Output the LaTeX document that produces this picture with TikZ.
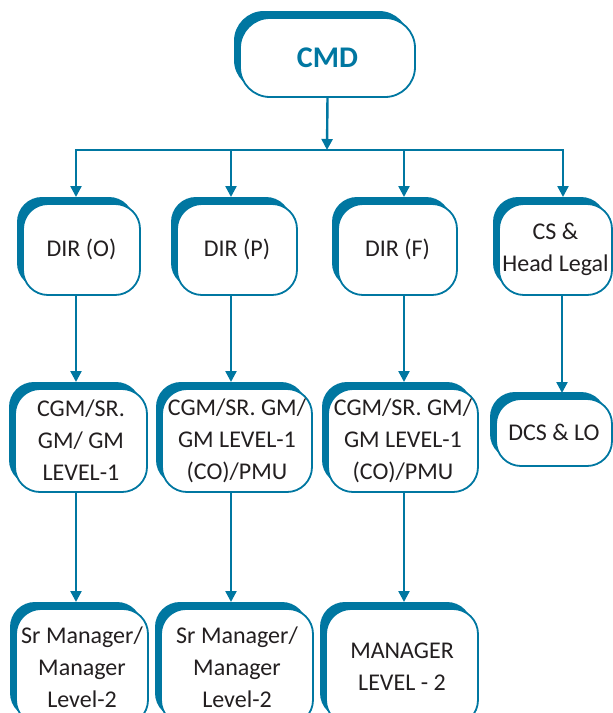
\documentclass[tikz,border=0pt]{standalone}
\usepackage{fontspec}
\setmainfont{Carlito}
\usetikzlibrary{shadows,arrows.meta}
\definecolor{tealc}{RGB}{0,119,161}
\definecolor{txt}{RGB}{35,31,32}
\tikzset{
  orgbox/.style={rectangle, rounded corners=25pt, draw=tealc, line width=1.8pt,
    fill=white, align=center, inner sep=0pt, text=txt,
    font=\fontsize{24}{32}\selectfont,
    general shadow={fill=tealc, shadow xshift=-6pt, shadow yshift=7pt}},
  link/.style={draw=tealc, line width=2.4pt},
  arr/.style={link, -{Triangle[length=11pt,width=11pt]}}
}
\begin{document}
\begin{tikzpicture}[x=1pt,y=-1pt]
\useasboundingbox (0,0) rectangle (613,713);
\clip (0,0) rectangle (613,713);
% top
\node[orgbox, rounded corners=30pt, minimum width=175pt, minimum height=79pt,
  text=tealc, font=\fontsize{30}{34}\selectfont\bfseries] (cmd) at (327.5,57.5) {CMD};
% row 1
\node[orgbox, minimum width=117pt, minimum height=91pt] (diro) at (81.5,249.5) {DIR (O)};
\node[orgbox, minimum width=120pt, minimum height=91pt] (dirp) at (237,249.5) {DIR (P)};
\node[orgbox, minimum width=119pt, minimum height=91pt] (dirf) at (397.5,249.5) {DIR (F)};
\node[orgbox, minimum width=113pt, minimum height=91pt] (cs) at (555.5,249.5) {CS \&\\Head Legal};
% row 2
\node[orgbox, minimum width=132pt, minimum height=103pt] (cgmo) at (81,440.5) {CGM/SR.\\GM/ GM\\LEVEL-1};
\node[orgbox, minimum width=150pt, minimum height=103pt] (cgmp) at (237,440.5) {CGM/SR. GM/\\GM LEVEL-1\\(CO)/PMU};
\node[orgbox, minimum width=150pt, minimum height=103pt] (cgmf) at (403,440.5) {CGM/SR. GM/\\GM LEVEL-1\\(CO)/PMU};
\node[orgbox, minimum width=116pt, minimum height=67pt] (dcs) at (554,432.5) {DCS \& LO};
% row 3
\node[orgbox, minimum width=132pt, minimum height=116pt] (mgro) at (82,667) {Sr Manager/\\Manager\\Level-2};
\node[orgbox, minimum width=152pt, minimum height=116pt] (mgrp) at (237,667) {Sr Manager/\\Manager\\Level-2};
\node[orgbox, minimum width=152pt, minimum height=116pt] (mgrf) at (402,667) {MANAGER\\LEVEL - 2};
% bus
\coordinate (b0) at (76,150);
\coordinate (b1) at (231,150);
\coordinate (bc) at (327,150);
\coordinate (b2) at (404,150);
\coordinate (b3) at (563,150);
\draw[arr] (cmd.south |- 0,97) -- (bc);
\draw[link] ([xshift=-1.2pt]b0) -- ([xshift=1.2pt]b3);
\draw[arr] (b0) -- (b0 |- 0,197);
\draw[arr] (b1) -- (b1 |- 0,197);
\draw[arr] (b2) -- (b2 |- 0,197);
\draw[arr] (b3) -- (b3 |- 0,197);
% verticals
\draw[arr] (b0 |- diro.south) -- (b0 |- 0,382);
\draw[arr] (b1 |- dirp.south) -- (b1 |- 0,382);
\draw[arr] (b2 |- dirf.south) -- (b2 |- 0,382);
\draw[arr] (562,295) -- (562,393);
\draw[arr] (b0 |- cgmo.south) -- (b0 |- 0,602);
\draw[arr] (b1 |- cgmp.south) -- (b1 |- 0,602);
\draw[arr] (b2 |- cgmf.south) -- (b2 |- 0,602);
\end{tikzpicture}
\end{document}
